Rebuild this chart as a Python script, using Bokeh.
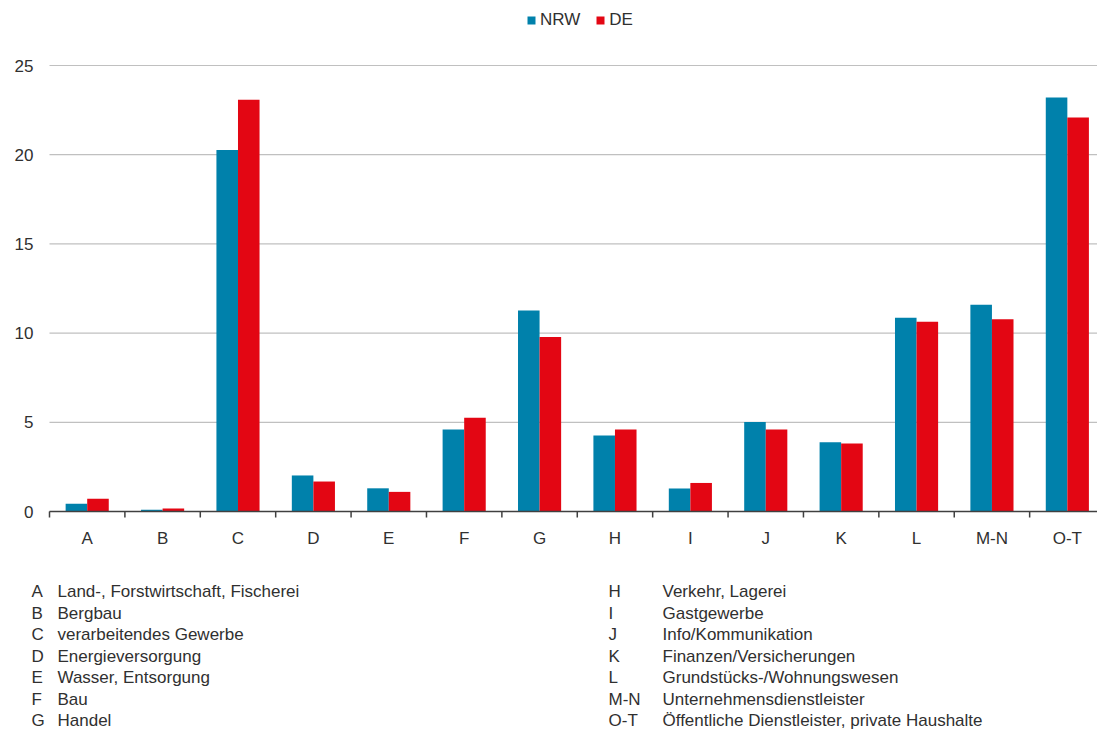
from bokeh.plotting import figure
from bokeh.models import (ColumnDataSource, Range1d, FixedTicker, Legend, LegendItem)
from bokeh.layouts import column
from bokeh.core.properties import value
from bokeh.embed import file_html
from bokeh.resources import INLINE

categories = ["A", "B", "C", "D", "E", "F", "G", "H", "I", "J", "K", "L", "M-N", "O-T"]
nrw = [0.43, 0.10, 20.27, 2.02, 1.30, 4.60, 11.27, 4.26, 1.29, 5.02, 3.88, 10.86, 11.59, 23.20]
de = [0.71, 0.17, 23.08, 1.68, 1.10, 5.26, 9.78, 4.59, 1.60, 4.59, 3.81, 10.64, 10.78, 22.08]
y_ticks = [0, 5, 10, 15, 20, 25]

left_codes = ["A", "B", "C", "D", "E", "F", "G"]
left_names = ["Land-, Forstwirtschaft, Fischerei", "Bergbau", "verarbeitendes Gewerbe",
              "Energieversorgung", "Wasser, Entsorgung", "Bau", "Handel"]
right_codes = ["H", "I", "J", "K", "L", "M-N", "O-T"]
right_names = ["Verkehr, Lagerei", "Gastgewerbe", "Info/Kommunikation", "Finanzen/Versicherungen",
               "Grundstücks-/Wohnungswesen", "Unternehmensdienstleister",
               "Öffentliche Dienstleister, private Haushalte"]

BLUE = "#0081ab"
RED = "#e30613"
FONT = "Liberation Sans"
TXT = "#303030"
AXIS_C = "#404040"

W, H = 1097, 731
H1 = 575                # chart part
H2 = H - H1             # key part
LEFT = 49               # pixel column where the category axis starts
AXIS_Y = 511            # pixel row of the value 0
FRAME_B = 524           # frame bottom, a little below the zero line
PX_PER_UNIT = 446 / 25.0
X_END = 13.9
PX_PER_CAT = (W - LEFT) / X_END
X_START = -LEFT / PX_PER_CAT                  # frame starts at the left edge
Y_END = AXIS_Y / PX_PER_UNIT                  # frame reaches the top of the canvas
Y_START = -(FRAME_B - AXIS_Y) / PX_PER_UNIT
TICK_LEN = 6 / PX_PER_UNIT

n = len(categories)
centers = [i + 0.5 for i in range(n)]
bounds = list(range(n + 1))
bw = 0.286
src = ColumnDataSource(dict(
    x_nrw=[c - bw / 2 for c in centers],
    x_de=[c + bw / 2 for c in centers],
    nrw=nrw, de=de,
))

p = figure(width=W, height=H1, output_backend="svg", toolbar_location=None,
           x_range=Range1d(X_START, X_END), y_range=Range1d(Y_START, Y_END),
           y_axis_location=None,
           min_border_left=0, min_border_right=0, min_border_top=0,
           min_border_bottom=H1 - FRAME_B)
p.outline_line_color = None
p.background_fill_color = "white"
p.xgrid.visible = False
p.ygrid.visible = False

# horizontal gridlines at the value ticks, spanning the category area
p.segment(x0=[0] * len(y_ticks), x1=[X_END] * len(y_ticks), y0=y_ticks, y1=y_ticks,
          line_color="#c0c0c0", line_width=1.2)

# value tick labels
p.text(x=[(33 - LEFT) / PX_PER_CAT] * len(y_ticks), y=y_ticks, text=[str(t) for t in y_ticks],
       text_font=value(FONT), text_font_size="17px", text_color=TXT,
       text_align="right", text_baseline="middle")

r1 = p.vbar(x="x_nrw", top="nrw", width=bw, source=src, fill_color=BLUE, line_color=None)
r2 = p.vbar(x="x_de", top="de", width=bw, source=src, fill_color=RED, line_color=None)

# zero line and category separators
p.segment(x0=[0], x1=[X_END], y0=[0], y1=[0], line_color=AXIS_C, line_width=1.5)
p.segment(x0=bounds, x1=bounds, y0=[0] * len(bounds), y1=[-TICK_LEN] * len(bounds),
          line_color=AXIS_C, line_width=1.5)

# category labels through the axis (its own line and ticks hidden)
xa = p.xaxis[0]
xa.ticker = FixedTicker(ticks=centers)
xa.major_label_overrides = {c: lab for c, lab in zip(centers, categories)}
xa.major_tick_out = 0
xa.major_tick_in = 0
xa.major_tick_line_color = None
xa.minor_tick_line_color = None
xa.axis_line_color = None
xa.major_label_standoff = 4
xa.major_label_text_font = FONT
xa.major_label_text_font_size = "17px"
xa.major_label_text_color = TXT

legend = Legend(items=[LegendItem(label="NRW", renderers=[r1]), LegendItem(label="DE", renderers=[r2])],
                orientation="horizontal", location=(526, FRAME_B - 30),
                glyph_width=10, glyph_height=10, label_height=12, label_standoff=4,
                spacing=15, padding=0, margin=0,
                border_line_color=None, background_fill_alpha=0,
                label_text_font=FONT, label_text_font_size="17px", label_text_color=TXT)
p.add_layout(legend, "center")

# category key below the chart: a second figure measured in pixels (y downwards)
k = figure(width=W, height=H2, output_backend="svg", toolbar_location=None,
           x_range=Range1d(0, W), y_range=Range1d(H2, 0),
           x_axis_type=None, y_axis_type=None,
           min_border_left=0, min_border_right=0, min_border_top=0, min_border_bottom=0)
k.outline_line_color = None
k.xgrid.visible = False
k.ygrid.visible = False

ROW0, ROW_STEP = 591 - H1, 21.5
def key_source(codes, names, code_x, name_x):
    ys = [ROW0 + ROW_STEP * i for i in range(len(codes))]
    return (ColumnDataSource(dict(x=[code_x] * len(codes), y=ys, t=codes)),
            ColumnDataSource(dict(x=[name_x] * len(names), y=ys, t=names)))

for code_src, name_src in (key_source(left_codes, left_names, 31, 57),
                           key_source(right_codes, right_names, 608, 662)):
    for s in (code_src, name_src):
        k.text(x="x", y="y", text="t", source=s, text_font=value(FONT),
               text_font_size="17px", text_color=TXT,
               text_baseline="middle", text_align="left")

open("out.html", "w").write(file_html(column(p, k, spacing=0), INLINE))
